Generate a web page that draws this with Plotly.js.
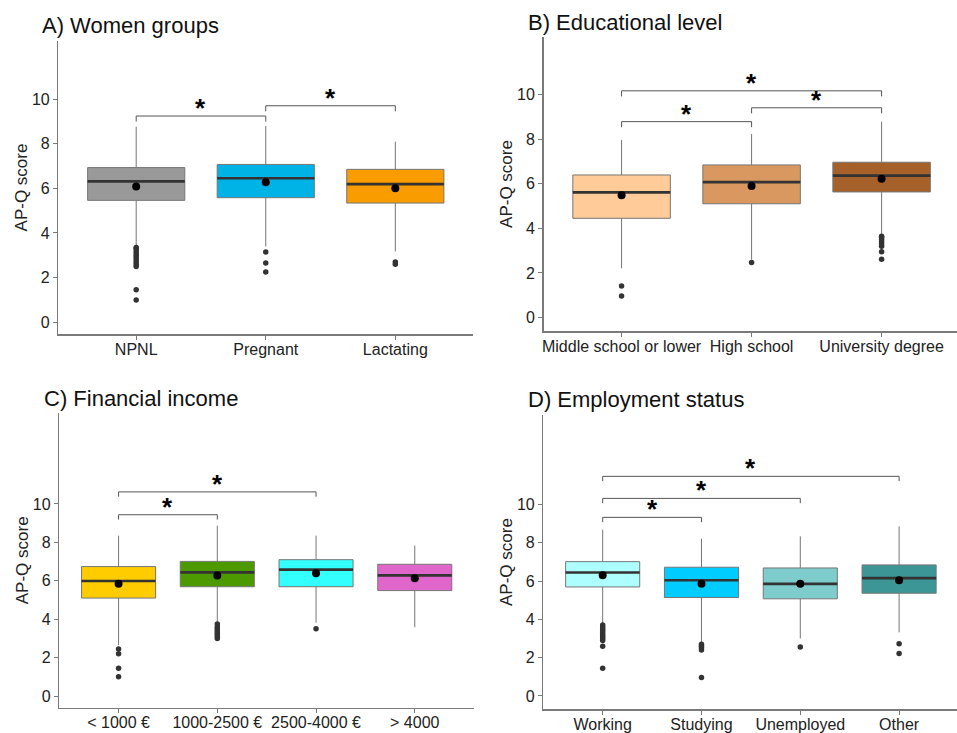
<!DOCTYPE html>
<html>
<head>
<meta charset="utf-8">
<script src="https://cdn.plot.ly/plotly-3.0.1.min.js"></script>
<style>html,body{margin:0;padding:0;background:#fff;}#chart{width:957px;height:733px;}</style>
</head>
<body>
<div id="chart"></div>
<script>
// ---------- Data ----------
// A) Women groups
const catsA = ["NPNL", "Pregnant", "Lactating"];
const q1A   = [5.46, 5.58, 5.34];
const medA  = [6.31, 6.45, 6.19];
const q3A   = [6.93, 7.07, 6.85];
const loA   = [3.38, 3.39, 3.17];
const hiA   = [8.76, 8.79, 8.09];
const meanA = [6.08, 6.27, 6.00];
const outA  = [[3.35, 3.3, 3.2, 3.1, 3.0, 2.9, 2.8, 2.7, 2.6, 2.5, 1.45, 1.0], [3.15, 2.65, 2.25], [2.7, 2.6]];
const pairsA = [[0, 1], [1, 2]];
const sigA   = [9.24, 9.70];

// B) Educational level
const catsB = ["Middle school or lower", "High school", "University degree"];
const q1B   = [4.45, 5.10, 5.63];
const medB  = [5.61, 6.07, 6.36];
const q3B   = [6.39, 6.84, 6.96];
const loB   = [2.21, 2.60, 3.70];
const hiB   = [7.96, 8.22, 8.78];
const meanB = [5.48, 5.90, 6.22];
const outB  = [[1.42, 0.97], [2.47], [3.65, 3.6, 3.5, 3.4, 3.3, 3.2, 2.95, 2.62]];
const pairsB = [[0, 1], [1, 2], [0, 2]];
const sigB   = [8.78, 9.40, 10.16];

// C) Financial income
const catsC = ["< 1000 €", "1000-2500 €", "2500-4000 €", "> 4000"];
const q1C   = [5.10, 5.69, 5.69, 5.49];
const medC  = [5.99, 6.44, 6.58, 6.28];
const q3C   = [6.74, 7.01, 7.10, 6.86];
const loC   = [2.65, 3.80, 3.82, 3.58];
const hiC   = [8.35, 8.87, 8.35, 7.83];
const meanC = [5.85, 6.27, 6.39, 6.13];
const outC  = [[2.45, 2.2, 1.45, 1.0], [3.75, 3.6, 3.5, 3.4, 3.3, 3.2, 3.1, 3.0], [3.5], []];
const pairsC = [[0, 1], [0, 2]];
const sigC   = [9.44, 10.63];

// D) Employment status
const catsD = ["Working", "Studying", "Unemployed", "Other"];
const q1D   = [5.69, 5.14, 5.07, 5.36];
const medD  = [6.44, 6.04, 5.85, 6.15];
const q3D   = [7.01, 6.72, 6.68, 6.84];
const loD   = [3.78, 2.78, 3.00, 3.32];
const hiD   = [8.68, 8.21, 8.33, 8.85];
const meanD = [6.30, 5.85, 5.85, 6.04];
const outD  = [[3.7, 3.6, 3.5, 3.4, 3.3, 3.2, 3.1, 3.0, 2.9, 2.6, 1.45], [2.7, 2.6, 2.5, 2.4, 0.97], [2.55], [2.72, 2.22]];
const pairsD = [[0, 1], [0, 2], [0, 3]];
const sigD   = [9.32, 10.31, 11.46];

const yTicks = [0, 2, 4, 6, 8, 10];

// ---------- Styles ----------
const colorsA = ["#999999", "#00B3E6", "#F89C00"];
const colorsB = ["#FFCC99", "#D9985F", "#A6612A"];
const colorsC = ["#FFCC00", "#4C9900", "#33FFFF", "#E066CC"];
const colorsD = ["#ADFFFF", "#00CCFF", "#7FCCCC", "#3D9696"];

const FONT = "Liberation Sans, Arial, sans-serif";
const BOXW = 0.75;
const traces = [];
const annotations = [];

function panel(p, xa, ya) {
  const n = p.cats.length;
  // boxes
  for (let i = 0; i < n; i++) {
    traces.push({
      type: "box", orientation: "v", x: [i],
      q1: [p.q1[i]], median: [p.med[i]], q3: [p.q3[i]],
      lowerfence: [p.lo[i]], upperfence: [p.hi[i]],
      width: BOXW, whiskerwidth: 0, boxpoints: false,
      fillcolor: p.colors[i], line: { color: "#767676", width: 1 },
      xaxis: xa, yaxis: ya, hoverinfo: "skip", showlegend: false
    });
  }
  // median lines
  const mx = [], my = [];
  for (let i = 0; i < n; i++) {
    mx.push(i - BOXW / 2, i + BOXW / 2, null);
    my.push(p.med[i], p.med[i], null);
  }
  traces.push({ type: "scatter", mode: "lines", x: mx, y: my,
    line: { color: "#333333", width: 2.6 }, xaxis: xa, yaxis: ya, hoverinfo: "skip", showlegend: false });
  // outliers
  const ox = [], oy = [];
  p.outs.forEach((arr, i) => arr.forEach(v => { ox.push(i); oy.push(v); }));
  traces.push({ type: "scatter", mode: "markers", x: ox, y: oy,
    marker: { color: "#333333", size: 5.5 }, xaxis: xa, yaxis: ya, hoverinfo: "skip", showlegend: false });
  // means
  traces.push({ type: "scatter", mode: "markers", x: p.cats.map((c, i) => i), y: p.mean,
    marker: { color: "#000000", size: 8 }, xaxis: xa, yaxis: ya, hoverinfo: "skip", showlegend: false });
  // significance brackets
  const bx = [], by = [];
  p.pairs.forEach((pr, k) => {
    const h = p.sig[k];
    bx.push(pr[0], pr[0], pr[1], pr[1], null);
    by.push(h - 0.25, h, h, h - 0.25, null);
    annotations.push({ xref: xa, yref: ya, x: (pr[0] + pr[1]) / 2, y: h, text: "<b>*</b>",
      showarrow: false, yanchor: "middle", yshift: 8, font: { family: FONT, size: 26, color: "#000" } });
  });
  traces.push({ type: "scatter", mode: "lines", x: bx, y: by,
    line: { color: "#555555", width: 1 }, xaxis: xa, yaxis: ya, hoverinfo: "skip", showlegend: false });
}

panel({ cats: catsA, q1: q1A, med: medA, q3: q3A, lo: loA, hi: hiA, mean: meanA, outs: outA, pairs: pairsA, sig: sigA, colors: colorsA }, "x", "y");
panel({ cats: catsB, q1: q1B, med: medB, q3: q3B, lo: loB, hi: hiB, mean: meanB, outs: outB, pairs: pairsB, sig: sigB, colors: colorsB }, "x2", "y2");
panel({ cats: catsC, q1: q1C, med: medC, q3: q3C, lo: loC, hi: hiC, mean: meanC, outs: outC, pairs: pairsC, sig: sigC, colors: colorsC }, "x3", "y3");
panel({ cats: catsD, q1: q1D, med: medD, q3: q3D, lo: loD, hi: hiD, mean: meanD, outs: outD, pairs: pairsD, sig: sigD, colors: colorsD }, "x4", "y4");

function xAxis(cats, domain, range, anchor) {
  return {
    domain: domain, range: range, anchor: anchor, type: "linear",
    tickvals: cats.map((c, i) => i), ticktext: cats, tickangle: 0,
    showline: true, linecolor: "#7a7a7a", linewidth: 1.5,
    ticks: "outside", ticklen: 4, tickcolor: "#7a7a7a", tickwidth: 1,
    ticklabelstandoff: -4,
    showgrid: false, zeroline: false, fixedrange: true,
    tickfont: { family: FONT, size: 16, color: "#222" }
  };
}
function yAxis(domain, range, anchor) {
  return {
    domain: domain, range: range, anchor: anchor,
    tickvals: yTicks, showline: true, linecolor: "#7a7a7a", linewidth: 1.5,
    ticks: "outside", ticklen: 4, tickcolor: "#7a7a7a", tickwidth: 1,
    showgrid: false, zeroline: false, fixedrange: true,
    tickfont: { family: FONT, size: 16, color: "#222" },
    title: { text: "AP-Q score", font: { family: FONT, size: 17, color: "#222" }, standoff: 0 }
  };
}

const titles = [
  { text: "A) Women groups", x: 40, y: 26 },
  { text: "B) Educational level", x: 526, y: 22 },
  { text: "C) Financial income", x: 42, y: 398 },
  { text: "D) Employment status", x: 526, y: 399 }
];
titles.forEach(t => annotations.push({
  xref: "paper", yref: "paper", x: t.x / 957, y: 1 - t.y / 733, xanchor: "left", yanchor: "middle",
  text: t.text, showarrow: false, font: { family: FONT, size: 22, color: "#111" }
}));

const layout = {
  width: 957, height: 733,
  margin: { l: 0, r: 0, t: 0, b: 0 },
  paper_bgcolor: "#ffffff", plot_bgcolor: "#ffffff",
  showlegend: false, boxmode: "overlay",
  font: { family: FONT },
  xaxis:  xAxis(catsA, [0.0611, 0.4943], [-0.6, 2.6], "y"),
  yaxis:  yAxis([0.5443, 0.944], [-0.53, 12.6], "x"),
  xaxis2: xAxis(catsB, [0.5680, 1.0], [-0.6, 2.58], "y2"),
  yaxis2: yAxis([0.5484, 0.9495], [-0.6, 12.57], "x2"),
  xaxis3: xAxis(catsC, [0.0620, 0.4953], [-0.6, 3.6], "y3"),
  yaxis3: yAxis([0.0345, 0.4366], [-0.61, 14.74], "x3"),
  xaxis4: xAxis(catsD, [0.5678, 1.0], [-0.6, 3.586], "y4"),
  yaxis4: yAxis([0.0327, 0.4338], [-0.68, 14.66], "x4"),
  annotations: annotations
};

Plotly.newPlot("chart", traces, layout, { displayModeBar: false, staticPlot: true });
</script>
</body>
</html>
